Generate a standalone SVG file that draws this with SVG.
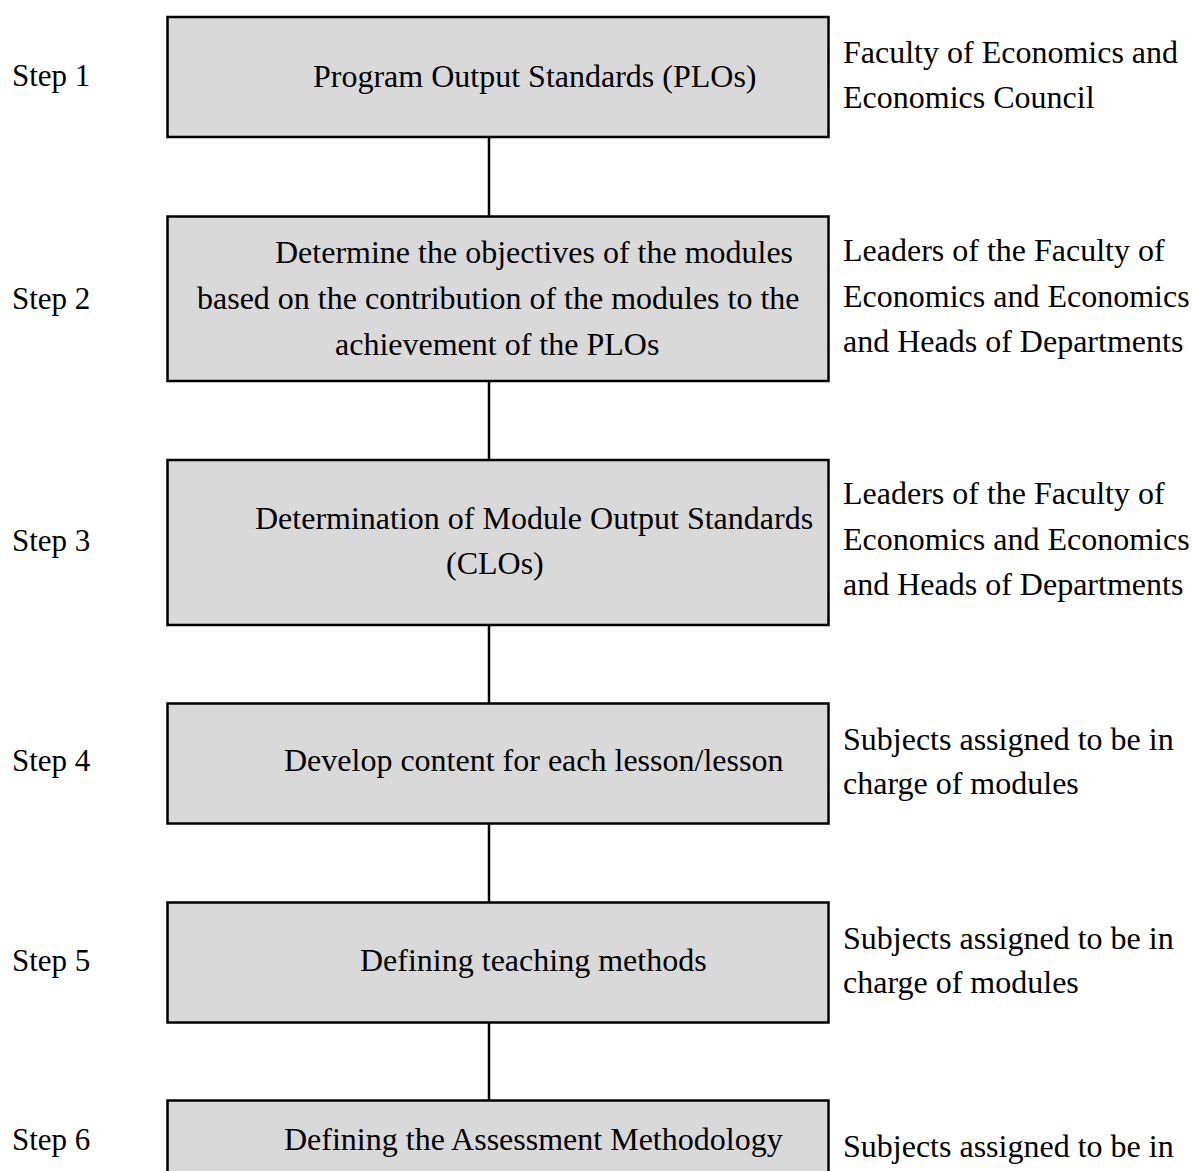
<svg xmlns="http://www.w3.org/2000/svg" width="1192" height="1171" viewBox="0 0 1192 1171">
<style>
text{font-family:"Liberation Serif","Times New Roman",serif;font-size:32px;fill:#000}
.step{font-size:31px}
.box{fill:#d9d9d9;stroke:#000;stroke-width:2.5}
.conn{stroke:#000;stroke-width:2.5;fill:none}
</style>
<rect width="1192" height="1171" fill="#fff"/>
<g id="connectors">
<line class="conn" x1="489" y1="137" x2="489" y2="216"/>
<line class="conn" x1="489" y1="381" x2="489" y2="460"/>
<line class="conn" x1="489" y1="625" x2="489" y2="703"/>
<line class="conn" x1="489" y1="823" x2="489" y2="902"/>
<line class="conn" x1="489" y1="1022" x2="489" y2="1100"/>
</g>
<g id="step1">
<text class="step" x="12" y="86">Step 1</text>
<rect class="box" x="167.5" y="17" width="661" height="120"/>
<text x="313" y="87">Program Output Standards (PLOs)</text>
<text x="843" y="63">Faculty of Economics and</text>
<text x="843" y="108">Economics Council</text>
</g>
<g id="step2">
<text class="step" x="12" y="309">Step 2</text>
<rect class="box" x="167.5" y="216.5" width="661" height="164.5"/>
<text x="275" y="263">Determine the objectives of the modules</text>
<text x="197" y="309">based on the contribution of the modules to the</text>
<text x="335" y="355">achievement of the PLOs</text>
<text x="843" y="261">Leaders of the Faculty of</text>
<text x="843" y="307">Economics and Economics</text>
<text x="843" y="352">and Heads of Departments</text>
</g>
<g id="step3">
<text class="step" x="12" y="551">Step 3</text>
<rect class="box" x="167.5" y="460" width="661" height="165"/>
<text x="255" y="529">Determination of Module Output Standards</text>
<text x="446" y="574">(CLOs)</text>
<text x="843" y="504">Leaders of the Faculty of</text>
<text x="843" y="550">Economics and Economics</text>
<text x="843" y="595">and Heads of Departments</text>
</g>
<g id="step4">
<text class="step" x="12" y="771">Step 4</text>
<rect class="box" x="167.5" y="703.5" width="661" height="120"/>
<text x="284" y="771">Develop content for each lesson/lesson</text>
<text x="843" y="750">Subjects assigned to be in</text>
<text x="843" y="794">charge of modules</text>
</g>
<g id="step5">
<text class="step" x="12" y="971">Step 5</text>
<rect class="box" x="167.5" y="902.5" width="661" height="120"/>
<text x="360" y="971">Defining teaching methods</text>
<text x="843" y="949">Subjects assigned to be in</text>
<text x="843" y="993">charge of modules</text>
</g>
<g id="step6">
<text class="step" x="12" y="1150">Step 6</text>
<rect class="box" x="167.5" y="1100.5" width="661" height="100"/>
<text x="284" y="1150">Defining the Assessment Methodology</text>
<text x="843" y="1157">Subjects assigned to be in</text>
</g>
</svg>
